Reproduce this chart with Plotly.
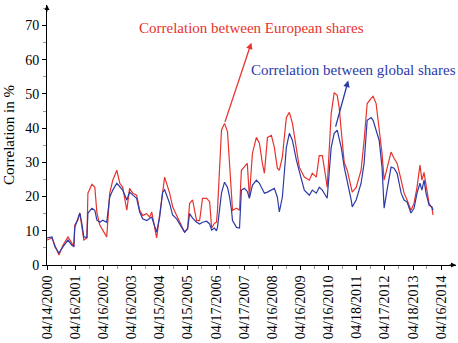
import plotly.graph_objects as go

dates = [
    "2000-04-14", "2000-06-18", "2000-07-25", "2000-09-16", "2000-11-07",
    "2001-01-11", "2001-03-02", "2001-03-28", "2001-04-10", "2001-05-19",
    "2001-06-14", "2001-07-10", "2001-08-05", "2001-09-14", "2001-09-27",
    "2001-11-18", "2001-12-26", "2002-01-22", "2002-02-28", "2002-04-08",
    "2002-05-29", "2002-07-07", "2002-08-16", "2002-10-07", "2002-11-15",
    "2002-12-23", "2003-02-14", "2003-03-22", "2003-05-01", "2003-06-22",
    "2003-07-31", "2003-09-08", "2003-10-30", "2003-12-08", "2004-01-03",
    "2004-03-07", "2004-04-15", "2004-05-24", "2004-06-19", "2004-08-23",
    "2004-10-01", "2004-11-22", "2005-01-01", "2005-03-05", "2005-04-13",
    "2005-05-09", "2005-06-17", "2005-08-08", "2005-09-16", "2005-10-24",
    "2005-12-16", "2006-01-24", "2006-02-19", "2006-03-28", "2006-04-23",
    "2006-05-06", "2006-06-27", "2006-08-05", "2006-09-13", "2006-10-09",
    "2006-11-04", "2006-11-17", "2007-01-08", "2007-02-16", "2007-03-12",
    "2007-04-20", "2007-05-28", "2007-06-24", "2007-08-02", "2007-09-23",
    "2007-11-01", "2007-12-10", "2008-01-05", "2008-02-14", "2008-04-05",
    "2008-05-13", "2008-06-21", "2008-07-17", "2008-08-25", "2008-10-16",
    "2008-11-24", "2009-01-03", "2009-02-24", "2009-04-02", "2009-06-06",
    "2009-08-10", "2009-09-18", "2009-11-09", "2009-12-17", "2010-01-26",
    "2010-03-17", "2010-03-30", "2010-05-21", "2010-06-29", "2010-08-07",
    "2010-09-02", "2010-09-28", "2010-11-06", "2010-12-15", "2011-02-05",
    "2011-02-18", "2011-04-10", "2011-06-13", "2011-07-22", "2011-08-31",
    "2011-10-21", "2011-11-16", "2011-12-25", "2012-02-03", "2012-03-11",
    "2012-04-07", "2012-05-15", "2012-07-06", "2012-08-14", "2012-09-23",
    "2012-11-14", "2012-12-22", "2013-01-30", "2013-03-21", "2013-04-30",
    "2013-06-08", "2013-07-16", "2013-08-11", "2013-09-07", "2013-10-03",
    "2013-11-11", "2013-12-19", "2014-01-02",
]

european = [
    7.3, 7.9, 5.8, 2.9, 5.8,
    8.2, 6.4, 5.3, 11.7, 13.1,
    15.2, 11.0, 7.3, 7.9, 21.0,
    23.6, 22.7, 15.2, 11.7, 10.2,
    8.2, 21.0, 24.8, 27.7, 23.9,
    22.7, 16.0, 22.4, 21.0, 20.4,
    16.0, 14.5, 15.0, 14.0, 15.5,
    7.9, 14.6, 22.7, 25.7, 21.0,
    17.0, 14.5, 12.5, 9.6, 10.8,
    18.0, 19.0, 13.0, 13.0, 19.5,
    19.5, 18.5, 10.8, 12.2, 12.5,
    16.0, 39.4, 41.4, 39.0, 30.6,
    19.8, 16.0, 16.6, 16.0, 27.7,
    28.6, 29.7, 19.8, 32.6, 37.3,
    35.6, 29.7, 26.8, 37.3, 37.9,
    34.4, 28.3, 27.7, 31.5, 43.1,
    44.6, 41.4, 33.5, 28.6, 25.7,
    24.8, 26.8, 25.7, 32.0, 32.0,
    24.8, 22.7, 44.3, 50.4, 49.6,
    46.0, 39.4, 30.0, 27.7, 22.7,
    21.3, 22.7, 27.7, 36.4, 47.2,
    48.7, 49.3, 47.2, 40.2, 32.6,
    24.8, 28.6, 33.0, 31.2, 29.7,
    24.8, 21.0, 19.0, 16.0, 18.0,
    22.7, 29.2, 24.8, 27.1, 23.9,
    18.0, 16.6, 14.6,
]

global_ = [
    7.9, 8.2, 5.3, 3.5, 5.3,
    7.3, 5.8, 5.5, 11.0, 13.7,
    15.2, 12.2, 8.2, 8.0, 15.2,
    16.6, 16.0, 13.1, 12.5, 13.1,
    12.5, 19.8, 21.9, 23.9, 22.7,
    21.9, 19.0, 21.3, 20.5, 19.5,
    15.5, 13.5, 13.0, 13.5, 14.0,
    9.6, 14.0, 21.3, 22.0, 18.0,
    14.6, 13.5, 12.0, 9.6, 10.5,
    15.0, 13.7, 12.5, 12.0, 12.5,
    12.8, 12.0, 10.2, 10.8, 10.0,
    11.0, 21.0, 24.2, 22.7, 20.0,
    16.0, 13.0, 11.0, 10.8, 21.9,
    22.4, 21.5, 19.5, 23.3, 24.8,
    23.9, 21.9, 21.0, 21.3, 22.0,
    22.4, 19.8, 15.5, 19.8, 34.4,
    38.5, 36.4, 30.6, 27.7, 21.9,
    20.4, 21.9, 21.0, 22.7, 21.9,
    19.8, 19.5, 34.4, 38.5, 39.4,
    37.3, 34.4, 28.6, 24.8, 19.0,
    17.0, 19.0, 23.9, 29.7, 42.3,
    43.1, 42.3, 39.4, 36.4, 28.6,
    16.6, 21.9, 28.6, 28.3, 26.8,
    21.0, 19.0, 18.4, 15.2, 16.6,
    21.0, 23.9, 21.9, 24.8, 21.0,
    17.5, 17.0, 16.0,
]

tick_dates = [
    "2000-04-14", "2001-04-16", "2002-04-16", "2003-04-16", "2004-04-15",
    "2005-04-15", "2006-04-17", "2007-04-17", "2008-04-16", "2009-04-16",
    "2010-04-16", "2011-04-18", "2012-04-17", "2013-04-18", "2014-04-16",
]
tick_labels = [
    "04/14/2000", "04/16/2001", "04/16/2002", "04/16/2003", "04/15/2004",
    "04/15/2005", "04/17/2006", "04/17/2007", "04/16/2008", "04/16/2009",
    "04/16/2010", "04/18/2011", "04/17/2012", "04/18/2013", "04/16/2014",
]
minor_dates = [f"{y}-10-15" for y in range(2000, 2014)]

RED = "#e8322c"
BLUE = "#2c3aa8"
FONT = "Liberation Serif"

fig = go.Figure()
fig.add_trace(go.Scatter(x=dates, y=european, mode="lines",
                         line=dict(color=RED, width=1.2),
                         name="Correlation between European shares"))
fig.add_trace(go.Scatter(x=dates, y=global_, mode="lines",
                         line=dict(color=BLUE, width=1.2),
                         name="Correlation between global shares"))

fig.update_layout(
    width=458, height=343,
    margin=dict(l=47, r=2, t=5, b=78, autoexpand=False),
    paper_bgcolor="white", plot_bgcolor="white",
    showlegend=False,
    font=dict(family=FONT, size=14, color="black"),
)

fig.update_xaxes(
    type="date", automargin=False,
    range=["2000-04-14", "2014-10-27"],
    tickvals=tick_dates, ticktext=tick_labels,
    tickangle=-90,
    showgrid=False, zeroline=False,
    showline=True, linecolor="black", linewidth=1,
    ticks="outside", ticklen=4, tickcolor="black",
    minor=dict(tickvals=minor_dates, ticks="outside", ticklen=3, tickcolor="#999999"),
    tickfont=dict(family=FONT, size=14),
)
fig.update_yaxes(
    automargin=False,
    range=[0, 76],
    tickvals=[0, 10, 20, 30, 40, 50, 60, 70],
    showgrid=False, zeroline=False,
    showline=True, linecolor="black", linewidth=1,
    ticks="outside", ticklen=4, tickcolor="black",
    minor=dict(dtick=5, ticks="outside", ticklen=3, tickcolor="#999999"),
    tickfont=dict(family=FONT, size=14),
    title=dict(text="Correlation in %", font=dict(family=FONT, size=15), standoff=6),
)

# axis arrowheads
fig.add_annotation(xref="paper", yref="paper", x=0, y=1.0, ax=0, ay=8,
                   text="", showarrow=True, arrowhead=2, arrowsize=1,
                   arrowwidth=1, arrowcolor="black")
fig.add_annotation(xref="paper", yref="paper", x=1.0, y=0, ax=-8, ay=0,
                   text="", showarrow=True, arrowhead=2, arrowsize=1,
                   arrowwidth=1, arrowcolor="black")

# series labels
fig.add_annotation(x="2007-07-20", y=69.2, xref="x", yref="y",
                   text="Correlation between European shares", showarrow=False,
                   font=dict(family=FONT, size=15, color=RED))
fig.add_annotation(x="2011-03-01", y=56.9, xref="x", yref="y",
                   text="Correlation between global shares", showarrow=False,
                   font=dict(family=FONT, size=15, color=BLUE))

# pointer arrows
fig.add_annotation(x="2007-07-20", y=65.0, ax="2006-08-05", ay=41.4,
                   xref="x", yref="y", axref="x", ayref="y",
                   text="", showarrow=True, arrowhead=2, arrowsize=1,
                   arrowwidth=1.3, arrowcolor=RED)
fig.add_annotation(x="2010-12-28", y=53.9, ax="2010-07-12", ay=40.0,
                   xref="x", yref="y", axref="x", ayref="y",
                   text="", showarrow=True, arrowhead=2, arrowsize=1,
                   arrowwidth=1.3, arrowcolor=BLUE)

fig.write_html("out.html", config={"displayModeBar": False},
               post_script="document.body.style.margin='0';")
